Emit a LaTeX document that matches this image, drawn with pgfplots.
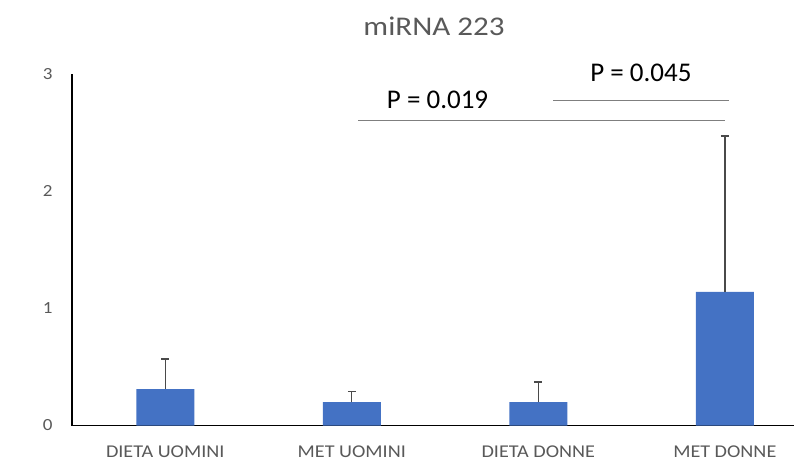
\documentclass[border=0pt]{standalone}
\usepackage{fontspec}
\setmainfont{Carlito}
\newfontfamily\tickfont[FakeStretch=1.12]{Carlito}
\newfontfamily\titlefont[FakeStretch=1.15]{Carlito}
\usepackage{pgfplots}
\pgfplotsset{compat=1.18}
\definecolor{barblue}{HTML}{4472C4}
\definecolor{txtgray}{HTML}{595959}
\definecolor{errgray}{HTML}{4A4A4A}
\definecolor{linegray}{HTML}{7F7F7F}
\begin{document}
\begin{tikzpicture}
\begin{axis}[
  at={(0,0)}, anchor=south west,
  scale only axis,
  width=722bp, height=351.5bp,
  xmin=-0.5, xmax=3.371,
  ymin=0, ymax=3,
  axis lines=left,
  axis line style={-, black, line width=1.1pt},
  major tick length=0,
  xtick={0,1,2,3},
  xticklabels={DIETA UOMINI, MET UOMINI, DIETA DONNE, MET DONNE},
  ytick={0,1,2,3},
  yticklabels={0,1,2,3},
  yticklabel style={font=\tickfont\fontsize{17bp}{19bp}\selectfont, text=txtgray, xshift=-16bp},
  xticklabel style={font=\tickfont\fontsize{18bp}{21bp}\selectfont, text=txtgray, yshift=-17bp},
  clip=false,
]
\addplot[ybar, bar width=58bp, fill=barblue, draw=none,
  error bars/.cd, y dir=plus, y explicit,
  error bar style={errgray, line width=1.4pt},
  error mark options={rotate=90, mark size=4bp, errgray, line width=1.8pt}]
  table[x=x, y=y, y error=e] {
x y e
0 0.31 0.26
1 0.20 0.09
2 0.20 0.17
3 1.14 1.33
};
\addplot[linegray, line width=0.9pt] coordinates {(1.035,2.60) (3.0,2.60)};
\addplot[linegray, line width=0.9pt] coordinates {(2.08,2.77) (3.02,2.77)};
\node[font=\fontsize{27bp}{30bp}\selectfont, text=black] at (axis cs:1.46,2.78) {P = 0.019};
\node[font=\fontsize{27bp}{30bp}\selectfont, text=black] at (axis cs:2.55,3.01) {P = 0.045};
\end{axis}
\node[font=\titlefont\fontsize{27bp}{31bp}\selectfont, text=txtgray] at (362bp,399.5bp) {miRNA 223};
\pgfresetboundingbox
\useasboundingbox (-72bp,-41.5bp) rectangle (722bp,425.5bp);
\end{tikzpicture}
\end{document}
